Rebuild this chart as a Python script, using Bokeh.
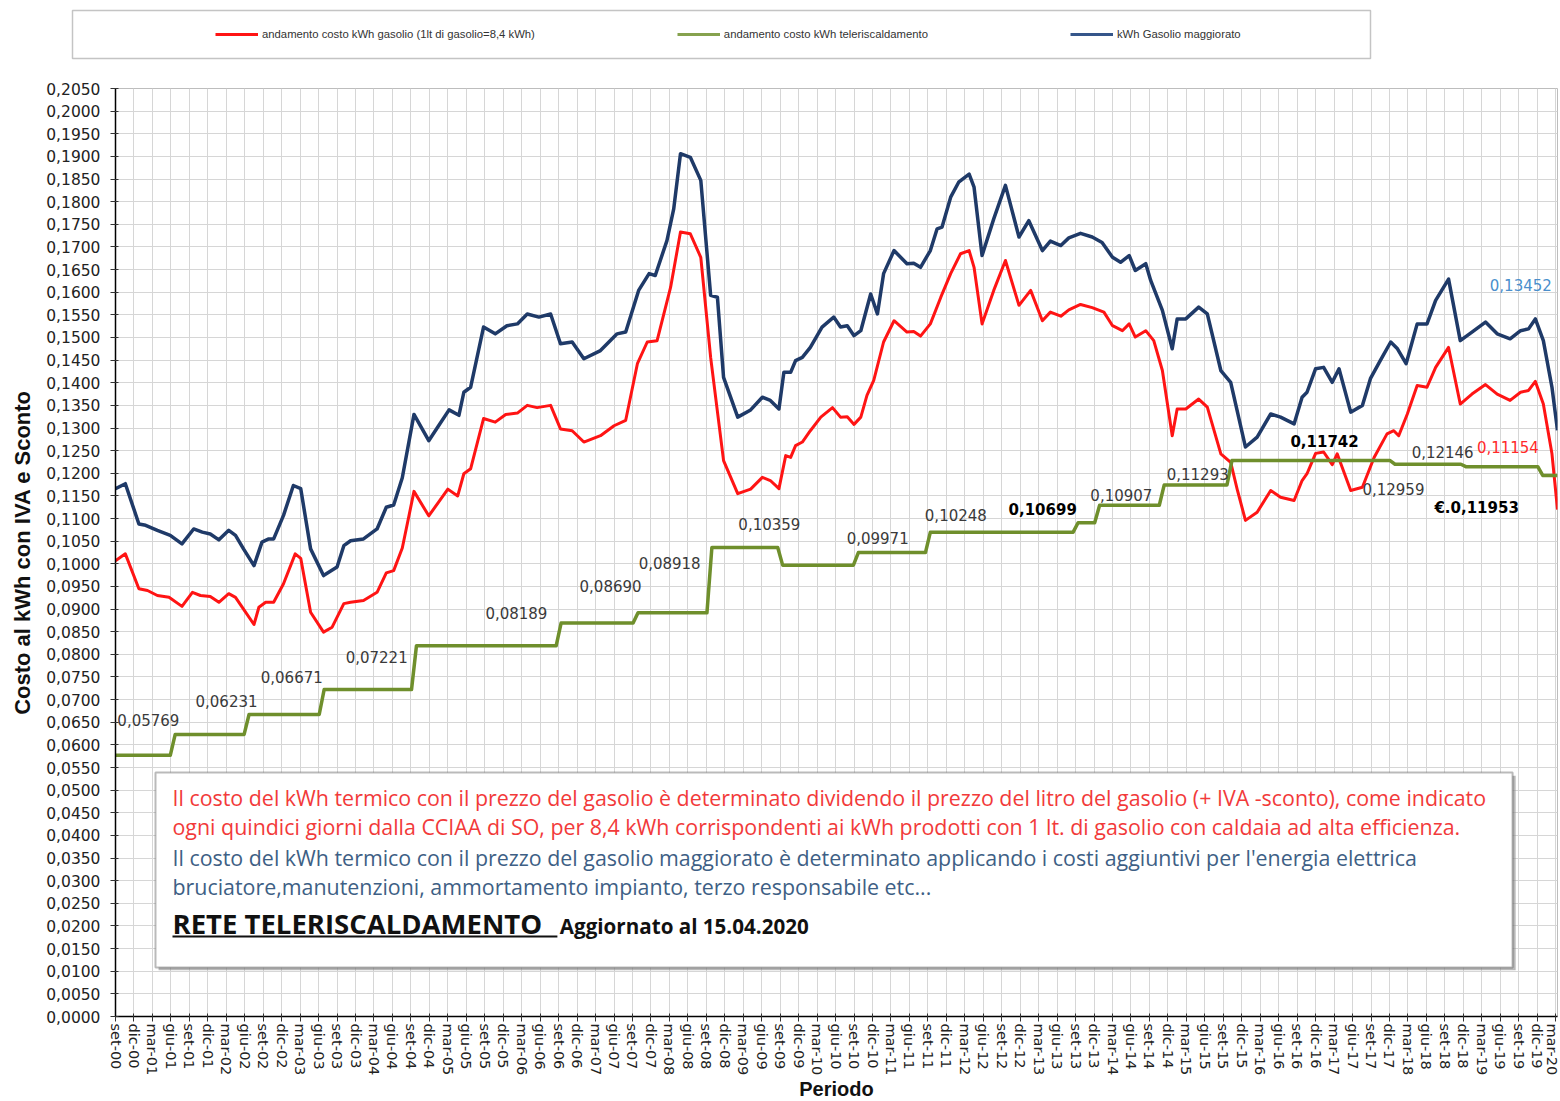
from bokeh.plotting import figure
from bokeh.models import (Range1d, FixedTicker, Label, Legend, LegendItem,
                          CustomJSTickFormatter, BoxAnnotation)
from bokeh.embed import file_html
from bokeh.resources import INLINE

# ---------------- data (x = months since set-2000) ----------------
gasolio = [(0.0,0.1007),(1.6,0.1022),(3.8,0.0945),(5.2,0.0941),(6.8,0.0930),(8.7,0.0926),(10.8,0.0906),
           (12.5,0.0937),(13.8,0.0930),(15.4,0.0928),(16.8,0.0915),(18.4,0.0934),(19.5,0.0926),(20.8,0.0900),
           (22.5,0.0866),(23.3,0.0904),(24.4,0.0915),(25.7,0.0915),(27.3,0.0956),(29.2,0.1022),(30.1,0.1012),
           (31.7,0.0893),(33.8,0.0849),(35.2,0.0860),(37.1,0.0912),(38.2,0.0915),(40.3,0.0919),(42.5,0.0937),
           (44.0,0.0980),(45.2,0.0985),(46.6,0.1035),(48.5,0.1160),(50.9,0.1106),(52.7,0.1140),(54.0,0.1165),
           (55.6,0.1150),(56.6,0.1199),(57.7,0.1210),(59.8,0.1321),(61.7,0.1313),(63.4,0.1330),(65.3,0.1333),
           (66.9,0.1350),(68.5,0.1345),(70.7,0.1350),(72.3,0.1298),(74.2,0.1294),(76.1,0.1269),(78.8,0.1283),
           (81.0,0.1305),(82.9,0.1317),(84.8,0.1442),(86.4,0.1490),(88.0,0.1493),(90.2,0.1611),(91.8,0.1733),
           (93.4,0.1729),(95.1,0.1677),(96.7,0.1456),(98.8,0.1228),(101.1,0.1155),(103.2,0.1165),(105.1,0.1191),
           (106.4,0.1184),(107.8,0.1166),(108.9,0.1239),(109.7,0.1235),(110.5,0.1261),(111.6,0.1269),
           (112.9,0.1294),(114.6,0.1324),(116.5,0.1345),(117.8,0.1324),(118.9,0.1325),(120.0,0.1308),
           (121.1,0.1324),(122.1,0.1372),(123.2,0.1405),(124.8,0.1490),(126.5,0.1537),(128.6,0.1512),
           (129.7,0.1513),(130.8,0.1503),(132.4,0.1530),(134.1,0.1589),(135.7,0.1641),(137.3,0.1685),
           (138.7,0.1692),(139.5,0.1655),(140.8,0.1530),(142.7,0.1604),(144.6,0.1670),(146.8,0.1571),
           (148.7,0.1604),(150.6,0.1537),(151.9,0.1556),(153.6,0.1547),(154.9,0.1561),(156.8,0.1573),
           (158.7,0.1566),(160.6,0.1556),(162.0,0.1526),(163.6,0.1515),(164.7,0.1530),(165.7,0.1501),
           (167.4,0.1515),(168.7,0.1493),(170.1,0.1427),(171.7,0.1283),(172.5,0.1342),(173.9,0.1342),
           (176.0,0.1364),(177.4,0.1346),(179.6,0.1243),(181.2,0.1224),(182.3,0.1162),(183.6,0.1096),
           (185.5,0.1114),(187.7,0.1162),(189.3,0.1147),(191.5,0.1140),(192.8,0.1184),(193.6,0.1199),
           (195.0,0.1244),(196.3,0.1247),(197.7,0.1219),(198.5,0.1243),(200.7,0.1162),(202.6,0.1169),
           (204.5,0.1235),(206.6,0.1287),(207.7,0.1294),(208.5,0.1283),(209.9,0.1331),(211.5,0.1394),
           (213.1,0.1390),(214.5,0.1434),(216.6,0.1478),(218.5,0.1353),(220.4,0.1375),(222.6,0.1396),
           (224.5,0.1375),(226.6,0.1361),(228.3,0.1379),(229.6,0.1383),(230.7,0.1403),(232.0,0.1353),
           (233.4,0.1243),(234.3,0.1120)]

maggiorato = [(0.0,0.1166),(1.6,0.1177),(3.8,0.1088),(4.9,0.1085),(6.8,0.1074),(8.9,0.1063),(10.8,0.1044),
              (12.7,0.1077),(14.1,0.1070),(15.4,0.1066),(16.8,0.1053),(18.4,0.1074),(19.5,0.1063),(20.8,0.1033),
              (22.5,0.0996),(23.8,0.1048),(24.9,0.1055),(25.7,0.1055),(27.3,0.1107),(28.9,0.1173),(30.1,0.1166),
              (31.7,0.1033),(33.8,0.0974),(36.0,0.0993),(37.1,0.1040),(38.2,0.1051),(40.3,0.1055),(42.5,0.1077),
              (44.0,0.1125),(45.2,0.1130),(46.6,0.1190),(48.5,0.1330),(50.9,0.1272),(52.5,0.1305),(54.2,0.1340),
              (55.8,0.1328),(56.6,0.1379),(57.7,0.1390),(59.8,0.1523),(61.7,0.1508),(63.6,0.1526),(65.3,0.1530),
              (66.9,0.1552),(68.8,0.1545),(70.7,0.1552),(72.3,0.1486),(74.2,0.1490),(76.1,0.1453),(78.8,0.1471),
              (81.5,0.1508),(82.9,0.1512),(85.0,0.1604),(86.7,0.1641),(87.7,0.1637),(89.6,0.1714),(90.7,0.1784),
              (91.8,0.1906),(93.4,0.1898),(95.1,0.1847),(96.7,0.1593),(97.8,0.1589),(98.8,0.1412),(101.1,0.1324),
              (103.2,0.1340),(105.1,0.1368),(106.4,0.1361),(107.8,0.1342),(108.6,0.1423),(109.7,0.1423),
              (110.5,0.1449),(111.6,0.1456),(112.9,0.1478),(114.8,0.1523),(116.7,0.1545),(117.8,0.1523),
              (118.9,0.1526),(120.0,0.1504),(121.1,0.1515),(122.7,0.1596),(123.8,0.1552),(124.8,0.1641),
              (126.5,0.1692),(128.6,0.1663),(129.7,0.1664),(130.8,0.1655),(132.4,0.1692),(133.5,0.1740),
              (134.3,0.1744),(135.7,0.1810),(137.0,0.1843),(138.7,0.1861),(139.5,0.1832),(140.8,0.1681),
              (142.7,0.1762),(144.6,0.1836),(146.8,0.1722),(148.4,0.1758),(150.6,0.1692),(151.9,0.1713),
              (153.6,0.1703),(154.9,0.1720),(156.8,0.1730),(158.7,0.1722),(160.3,0.1710),(162.0,0.1677),
              (163.3,0.1666),(164.7,0.1681),(165.7,0.1648),(167.4,0.1663),(168.2,0.1626),(170.1,0.1560),
              (171.7,0.1475),(172.5,0.1541),(173.9,0.1541),(176.0,0.1567),(177.4,0.1552),(179.6,0.1427),
              (181.2,0.1401),(183.6,0.1258),(185.5,0.1280),(187.7,0.1331),(189.3,0.1324),(191.5,0.1309),
              (192.8,0.1368),(193.6,0.1379),(195.0,0.1431),(196.3,0.1434),(197.7,0.1401),(198.8,0.1431),
              (200.7,0.1335),(202.6,0.1350),(203.9,0.1409),(205.5,0.1449),(207.2,0.1490),(208.3,0.1475),
              (209.7,0.1442),(211.5,0.1530),(213.1,0.1530),(214.5,0.1582),(216.6,0.1629),(218.5,0.1493),
              (220.4,0.1512),(222.6,0.1534),(224.5,0.1508),(226.6,0.1497),(228.3,0.1515),(229.6,0.1519),
              (230.7,0.1541),(232.0,0.1493),(233.4,0.1390),(234.3,0.1295)]

# teleriscaldamento tariff: month when each tariff starts, and its value
tele_start = [0.0, 9.3, 21.3, 33.5, 48.5, 72.0, 84.5, 96.5, 108.0, 120.3, 132.0, 156.0, 159.5,
              170.0, 181.0, 207.5, 219.0, 231.5]
tele_val = [0.05769, 0.06231, 0.06671, 0.07221, 0.08189, 0.08690, 0.08918, 0.10359, 0.09971,
            0.10248, 0.10699, 0.10907, 0.11293, 0.11742, 0.12280, 0.12200, 0.12146, 0.11953]
END_M = 234.3

# value labels written on the chart
lab_text = ["0,05769", "0,06231", "0,06671", "0,07221", "0,08189", "0,08690", "0,08918", "0,10359",
            "0,09971", "0,10248", "0,10699", "0,10907", "0,11293", "0,11742", "0,12959", "0,12146",
            "0,11154", "0,13452", "€.0,11953"]
lab_x = [0.3, 13.0, 23.6, 37.4, 60.1, 75.4, 85.0, 101.2, 118.8, 131.5, 145.1, 158.4, 170.8, 190.9,
         202.6, 210.6, 221.2, 223.3, 214.3]
lab_y = [0.0656, 0.0698, 0.0751, 0.0795, 0.0892, 0.0952, 0.1001, 0.1089, 0.1058, 0.1107, 0.1122,
         0.1151, 0.1199, 0.1272, 0.1166, 0.1248, 0.1259, 0.1615, 0.1124]
lab_color = ["#3a3a3a"] * 10 + ["#000000", "#3a3a3a", "#3a3a3a", "#000000", "#3a3a3a", "#3a3a3a",
                                "#ff2a2a", "#4a8fcc", "#000000"]
lab_bold = [False] * 10 + [True, False, False, True, False, False, False, False, True]

month_names = ["set", "dic", "mar", "giu"]
x_ticks = [3 * k for k in range(79)]
x_tick_labels = {3 * k: "%s-%02d" % (month_names[k % 4], (2000 + (8 + 3 * k) // 12) % 100)
                 for k in range(79)}
y_ticks = [round(0.005 * i, 4) for i in range(42)]

legend_labels = ["andamento costo kWh gasolio (1lt di gasolio=8,4 kWh)",
                 "andamento costo kWh teleriscaldamento",
                 "kWh Gasolio maggiorato"]

RED = "#ff1414"
BLUE = "#1f3a68"
GREEN = "#6f8f2c"
PAGE_W = 1559
LEG_H = 60

# ---------------- legend strip (own root, so its frame is not aligned to the chart) ----------------
leg = figure(width=PAGE_W, height=LEG_H, x_range=Range1d(0, PAGE_W), y_range=Range1d(0, LEG_H),
             toolbar_location=None, output_backend="svg", x_axis_location=None,
             y_axis_location=None, min_border=0, min_border_left=0, min_border_right=0,
             min_border_top=0, min_border_bottom=0)
leg.grid.visible = False
leg.outline_line_color = None
leg.quad(left=[72], right=[1370], bottom=[LEG_H - 58], top=[LEG_H - 10], fill_color="white",
         line_color="#c4c4c4", line_width=1.5)
r1 = leg.line([-100, -90], [-100, -100], line_color=RED, line_width=3)
r2 = leg.line([-100, -90], [-100, -100], line_color="#86a24e", line_width=3)
r3 = leg.line([-100, -90], [-100, -100], line_color="#35568a", line_width=3)
legend = Legend(items=[LegendItem(label=legend_labels[0], renderers=[r1]),
                       LegendItem(label=legend_labels[1], renderers=[r2]),
                       LegendItem(label=legend_labels[2], renderers=[r3])],
                orientation="horizontal", location=(215, LEG_H - 34 - 10), spacing=142,
                glyph_width=43, glyph_height=20, label_standoff=4, padding=0, margin=0,
                border_line_alpha=0, background_fill_alpha=0, label_text_font="Liberation Sans",
                label_text_font_size="11.3px", label_text_color="#333333")
leg.add_layout(legend)

# ---------------- main chart ----------------
LEFT, TOP, FW, FH = 115, 88, 1442, 928
p = figure(frame_width=FW, frame_height=FH, x_range=Range1d(0, END_M), y_range=Range1d(0, 0.205),
           toolbar_location=None, output_backend="svg", min_border_left=LEFT,
           min_border_top=TOP - LEG_H, min_border_right=PAGE_W - LEFT - FW, min_border_bottom=0)
p.outline_line_color = "#bdbdbd"
p.background_fill_color = "white"

p.xaxis.ticker = FixedTicker(ticks=x_ticks)
p.xaxis.major_label_overrides = x_tick_labels
p.xaxis.major_label_orientation = "vertical"
p.xaxis.major_label_text_font = "DejaVu Sans"
p.xaxis.major_label_text_font_size = "14.5px"
p.xaxis.major_label_text_color = "#222222"
p.xaxis.major_label_standoff = 2
p.xaxis.axis_label = "Periodo"
p.xaxis.axis_label_standoff = 0
p.xaxis.axis_label_text_font = "Liberation Sans"
p.xaxis.axis_label_text_font_style = "bold"
p.xaxis.axis_label_text_font_size = "20px"
p.xaxis.axis_label_text_color = "#111111"

p.yaxis.ticker = FixedTicker(ticks=y_ticks)
p.yaxis.formatter = CustomJSTickFormatter(code="return tick.toFixed(4).replace('.', ',');")
p.yaxis.major_label_text_font = "DejaVu Sans"
p.yaxis.major_label_text_font_size = "15.5px"
p.yaxis.major_label_text_color = "#222222"
p.yaxis.major_label_standoff = 10
p.yaxis.axis_label = "Costo al kWh con IVA e Sconto"
p.yaxis.axis_label_standoff = 8
p.yaxis.axis_label_text_font = "Liberation Sans"
p.yaxis.axis_label_text_font_style = "bold"
p.yaxis.axis_label_text_font_size = "22px"
p.yaxis.axis_label_text_color = "#111111"

for ax in (p.xaxis, p.yaxis):
    ax.axis_line_color = "black"
    ax.axis_line_width = 1.5
    ax.major_tick_line_color = "#333333"
    ax.major_tick_out = 5
    ax.major_tick_in = 3
    ax.minor_tick_line_color = None

p.xgrid.ticker = FixedTicker(ticks=x_ticks)
p.ygrid.ticker = FixedTicker(ticks=y_ticks)
p.grid.grid_line_color = "#d6d6d6"
p.grid.grid_line_width = 1

# teleriscaldamento step line (each change drawn over a short slope, as in the original)
tx, ty = [], []
for i, (s, v) in enumerate(zip(tele_start, tele_val)):
    e = tele_start[i + 1] if i + 1 < len(tele_start) else END_M
    tx += [s + (0.4 if i > 0 else 0.0), e - (0.4 if i + 1 < len(tele_start) else 0.0)]
    ty += [v, v]

p.line([a for a, b in maggiorato], [b for a, b in maggiorato], line_color=BLUE,
       line_width=3.5, line_join="round")
p.line([a for a, b in gasolio], [b for a, b in gasolio], line_color=RED, line_width=3,
       line_join="round")
p.line(tx, ty, line_color=GREEN, line_width=3.5, line_join="round")

for t, x, y, c, b in zip(lab_text, lab_x, lab_y, lab_color, lab_bold):
    p.add_layout(Label(x=x, y=y, text=t, text_baseline="middle", text_align="left",
                       text_font="DejaVu Sans", text_font_size="15px", text_color=c,
                       text_font_style="bold" if b else "normal"))

# ---------------- explanatory note box ----------------
p.add_layout(BoxAnnotation(left=7.0, right=227.5, bottom=0.0102, top=0.0532, fill_color="#8a8a8a",
                           fill_alpha=0.6, line_alpha=0, level="annotation"))
p.add_layout(BoxAnnotation(left=6.5, right=227.0, bottom=0.0108, top=0.0539, fill_color="white",
                           fill_alpha=1.0, line_color="#1a1a1a", line_width=2, level="annotation"))
note_lines = [
    ("Il costo del kWh termico con il prezzo del gasolio è determinato dividendo il prezzo del  litro del gasolio (+ IVA -sconto), come indicato", 0.04838, "#f23a3a"),
    ("ogni quindici giorni dalla CCIAA di  SO, per 8,4 kWh corrispondenti ai kWh prodotti  con 1 lt. di gasolio con caldaia ad alta efficienza.", 0.04197, "#f23a3a"),
    ("Il costo del kWh termico con il prezzo del gasolio maggiorato è determinato applicando i costi aggiuntivi per l'energia elettrica", 0.03512, "#3e5f85"),
    ("bruciatore,manutenzioni, ammortamento impianto, terzo responsabile etc...", 0.02872, "#3e5f85"),
]
for t, y, c in note_lines:
    p.add_layout(Label(x=9.26, y=y, text=t, text_baseline="middle", text_align="left",
                       text_font="Open Sans", text_font_size="21.4px", text_color=c))
p.add_layout(Label(x=9.26, y=0.0206, text="RETE TELERISCALDAMENTO", text_baseline="middle",
                   text_align="left", text_font="Open Sans", text_font_size="27.5px",
                   text_font_style="bold", text_color="#111111"))
p.add_layout(BoxAnnotation(left=9.26, right=71.8, bottom=0.01745, top=0.0179, fill_color="#111111",
                           fill_alpha=1.0, line_alpha=0, level="annotation"))
p.add_layout(Label(x=72.2, y=0.0201, text="Aggiornato al 15.04.2020", text_baseline="middle",
                   text_align="left", text_font="Open Sans", text_font_size="20.6px",
                   text_font_style="bold", text_color="#111111"))

open("out.html", "w").write(file_html([leg, p], INLINE))
